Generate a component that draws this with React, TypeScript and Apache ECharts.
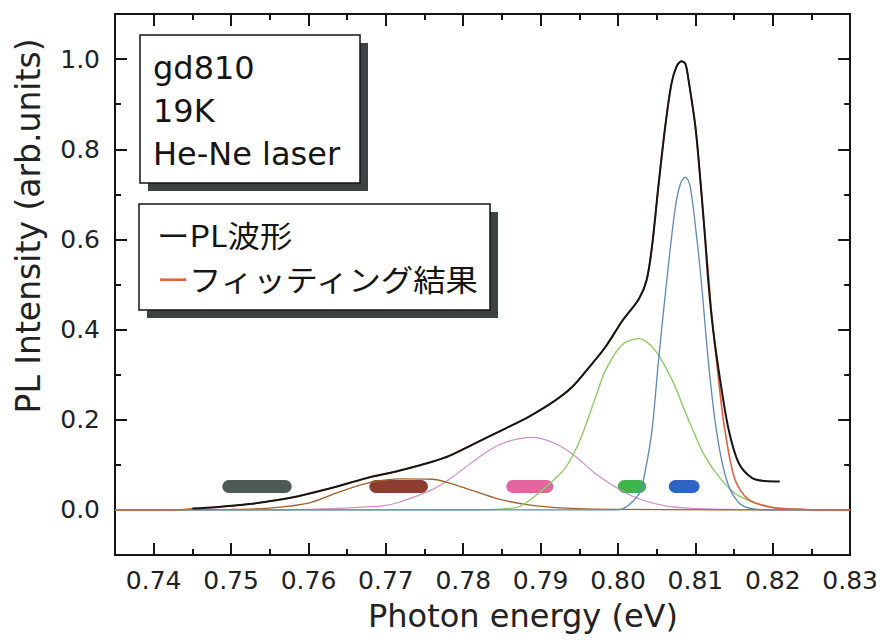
import React, { useEffect, useRef } from "react";
import * as echarts from "echarts";

// Photon energy (eV) / PL intensity pairs
const plWaveform: [number, number][] = [
  [0.745, 0.003], [0.748, 0.006], [0.7524, 0.013], [0.756, 0.022], [0.7588, 0.031],
  [0.7631, 0.049], [0.7674, 0.07], [0.7717, 0.087], [0.776, 0.107], [0.7782, 0.12],
  [0.7812, 0.145], [0.7855, 0.181], [0.7885, 0.207], [0.7919, 0.243], [0.7941, 0.273],
  [0.7962, 0.315], [0.7984, 0.362], [0.8005, 0.418], [0.8027, 0.468], [0.8037, 0.51],
  [0.8044, 0.585], [0.8052, 0.715], [0.8061, 0.85], [0.8069, 0.945], [0.8076, 0.985],
  [0.8082, 0.995], [0.8087, 0.99], [0.8091, 0.955], [0.81, 0.85], [0.8106, 0.74],
  [0.8112, 0.615], [0.8117, 0.5], [0.8123, 0.398], [0.8132, 0.288], [0.8143, 0.178],
  [0.8156, 0.104], [0.8173, 0.071], [0.819, 0.064], [0.8209, 0.063],
];

const fitResult: [number, number][] = [
  [0.735, 0], [0.74, 0], [0.744, 0.001], [0.745, 0.003], [0.748, 0.006], [0.7524, 0.013],
  [0.756, 0.022], [0.7588, 0.031], [0.7631, 0.049], [0.7674, 0.07], [0.7717, 0.087],
  [0.776, 0.107], [0.7782, 0.12], [0.7812, 0.145], [0.7855, 0.181], [0.7885, 0.207],
  [0.7919, 0.243], [0.7941, 0.273], [0.7962, 0.315], [0.7984, 0.362], [0.8005, 0.418],
  [0.8027, 0.468], [0.8037, 0.51], [0.8044, 0.585], [0.8052, 0.715], [0.8061, 0.85],
  [0.8069, 0.945], [0.8076, 0.985], [0.8082, 0.995], [0.8087, 0.99], [0.8091, 0.955],
  [0.81, 0.85], [0.8106, 0.74], [0.8112, 0.615], [0.8117, 0.52], [0.8121, 0.435],
  [0.813, 0.288], [0.8138, 0.178], [0.8151, 0.068], [0.8168, 0.024], [0.8198, 0.006],
  [0.8241, 0.001], [0.83, 0],
];

const brownComponent: [number, number][] = [
  [0.735, 0], [0.75, 0.001], [0.755, 0.004], [0.76, 0.015], [0.764, 0.04], [0.768, 0.061],
  [0.772, 0.069], [0.776, 0.068], [0.7803, 0.048], [0.7846, 0.024], [0.7889, 0.01],
  [0.7932, 0.004], [0.8, 0.001], [0.83, 0],
];

const pinkComponent: [number, number][] = [
  [0.735, 0], [0.755, 0], [0.76, 0.001], [0.7696, 0.009], [0.7717, 0.017], [0.776, 0.045],
  [0.7782, 0.068], [0.7833, 0.132], [0.786, 0.153], [0.7889, 0.161], [0.7915, 0.15],
  [0.7941, 0.124], [0.7975, 0.075], [0.8018, 0.031], [0.8061, 0.009], [0.8104, 0.003],
  [0.815, 0.001], [0.83, 0],
];

const greenComponent: [number, number][] = [
  [0.735, 0], [0.78, 0], [0.7868, 0.005], [0.7893, 0.031], [0.7928, 0.085], [0.7941, 0.119],
  [0.7954, 0.168], [0.7971, 0.25], [0.7984, 0.31], [0.8005, 0.366], [0.8027, 0.38],
  [0.8048, 0.354], [0.807, 0.288], [0.8091, 0.2], [0.8112, 0.12], [0.8134, 0.066],
  [0.8156, 0.031], [0.8198, 0.006], [0.8241, 0.001], [0.83, 0],
];

const blueComponent: [number, number][] = [
  [0.735, 0], [0.8, 0], [0.8027, 0.035], [0.8035, 0.085], [0.8044, 0.178], [0.8052, 0.325],
  [0.8063, 0.509], [0.8074, 0.67], [0.8081, 0.725], [0.8087, 0.738], [0.8093, 0.72],
  [0.8102, 0.6], [0.8108, 0.5], [0.8117, 0.325], [0.8127, 0.178], [0.814, 0.068],
  [0.8156, 0.016], [0.8175, 0.002], [0.82, 0], [0.83, 0],
];

// Peak markers: energy span of each band marker and its colour
const bandStart = [0.7497, 0.7687, 0.7864, 0.8008, 0.8074];
const bandEnd = [0.757, 0.7746, 0.7908, 0.8028, 0.8097];
const bandColors = ["#4e5a58", "#8d3d2f", "#e3649f", "#3db54a", "#2f63c4"];
const bandLevel = 0.052;

// Axis ticks
const xMajor = [0.74, 0.75, 0.76, 0.77, 0.78, 0.79, 0.8, 0.81, 0.82, 0.83];
const xMinor = [0.745, 0.755, 0.765, 0.775, 0.785, 0.795, 0.805, 0.815, 0.825];
const yMajor = [0, 0.2, 0.4, 0.6, 0.8, 1.0];
const yMinor = [0.1, 0.3, 0.5, 0.7, 0.9];

const X_MIN = 0.735;
const X_MAX = 0.83;
const Y_MIN = -0.1;
const Y_MAX = 1.1;

const INK = "#151515";
const FIT_RED = "#e0603c";
const LATIN = "DejaVu Sans";
const JP = "Noto Sans CJK JP";

function xAxisDef(position: "top" | "bottom", ticks: number[], len: number, labels: boolean) {
  return {
    type: "value",
    position,
    min: X_MIN,
    max: X_MAX,
    interval: 0.005,
    axisLine: { show: true, onZero: false, lineStyle: { color: INK, width: 2 } },
    axisTick: { show: true, inside: true, length: len, customValues: ticks, lineStyle: { color: INK, width: 2 } },
    axisLabel: labels
      ? {
          show: true,
          customValues: ticks,
          margin: 13,
          formatter: (v: number) => v.toFixed(2),
          fontFamily: LATIN,
          fontSize: 25,
          color: "#222",
        }
      : { show: false },
    splitLine: { show: false },
  };
}

function yAxisDef(position: "left" | "right", ticks: number[], len: number, labels: boolean) {
  return {
    type: "value",
    position,
    min: Y_MIN,
    max: Y_MAX,
    interval: 0.1,
    axisLine: { show: true, onZero: false, lineStyle: { color: INK, width: 2 } },
    axisTick: { show: true, inside: true, length: len, customValues: ticks, lineStyle: { color: INK, width: 2 } },
    axisLabel: labels
      ? {
          show: true,
          customValues: ticks,
          margin: 15,
          formatter: (v: number) => v.toFixed(1),
          fontFamily: LATIN,
          fontSize: 25,
          color: "#222",
        }
      : { show: false },
    splitLine: { show: false },
  };
}

function curve(data: [number, number][], color: string, width: number, z: number) {
  return {
    type: "line",
    data,
    xAxisIndex: 0,
    yAxisIndex: 0,
    showSymbol: false,
    symbol: "none",
    smooth: 0.3,
    z,
    lineStyle: { color, width },
    silent: true,
  };
}

export default function App() {
  const ref = useRef<HTMLDivElement>(null);

  useEffect(() => {
    if (!ref.current) return;
    const chart = echarts.init(ref.current, undefined, { renderer: "svg" });

    const bandSeries = bandStart.map((s, i) => ({
      type: "line",
      data: [
        [s, bandLevel],
        [bandEnd[i], bandLevel],
      ],
      xAxisIndex: 0,
      yAxisIndex: 0,
      showSymbol: false,
      symbol: "none",
      z: 1,
      silent: true,
      lineStyle: { color: bandColors[i], width: 13, cap: "round" },
    }));

    const textStyle = (text: string, fontFamily: string, fontSize: number, fill: string) => ({
      text,
      fontFamily,
      fontSize,
      lineHeight: fontSize + 4,
      fill,
      verticalAlign: "middle",
    });

    // legend glyphs are slightly widened to the box's proportions
    const LEGEND_STRETCH = 1.08;

    chart.setOption({
      animation: false,
      backgroundColor: "#ffffff",
      grid: { left: 115, top: 14, right: 28, bottom: 89, containLabel: false },
      xAxis: [
        xAxisDef("bottom", xMajor, 12, true),
        xAxisDef("bottom", xMinor, 6, false),
        xAxisDef("top", xMajor, 12, false),
        xAxisDef("top", xMinor, 6, false),
      ],
      yAxis: [
        yAxisDef("left", yMajor, 12, true),
        yAxisDef("left", yMinor, 6, false),
        yAxisDef("right", yMajor, 12, false),
        yAxisDef("right", yMinor, 6, false),
      ],
      series: [
        ...bandSeries,
        curve(pinkComponent, "#d48ebf", 1.2, 3),
        curve(brownComponent, "#a0622c", 1.3, 3),
        curve(greenComponent, "#8ccc64", 1.4, 3),
        curve(blueComponent, "#6088b6", 1.3, 3),
        curve(fitResult, FIT_RED, 1.6, 4),
        curve(plWaveform, INK, 2, 5),
      ],
      graphic: [
        // sample box
        { type: "rect", z: 100, shape: { x: 148, y: 43, width: 220, height: 148 }, style: { fill: "#3d4343" } },
        { type: "rect", z: 101, shape: { x: 140, y: 35, width: 220, height: 148 }, style: { fill: "#fff", stroke: INK, lineWidth: 1.5 } },
        { type: "text", z: 102, x: 153, y: 68, style: textStyle("gd810", LATIN, 32, INK) },
        { type: "text", z: 102, x: 153, y: 111, style: textStyle("19K", LATIN, 32, INK) },
        { type: "text", z: 102, x: 153, y: 154, style: textStyle("He-Ne laser", LATIN, 32, INK) },
        // legend box
        { type: "rect", z: 100, shape: { x: 147, y: 212, width: 351, height: 106 }, style: { fill: "#3d4343" } },
        { type: "rect", z: 101, shape: { x: 139, y: 204, width: 351, height: 106 }, style: { fill: "#fff", stroke: INK, lineWidth: 1.5 } },
        { type: "text", z: 102, x: 157, y: 234, scaleX: LEGEND_STRETCH, style: textStyle("ーPL波形", JP, 30, INK) },
        { type: "text", z: 102, x: 157, y: 278, scaleX: LEGEND_STRETCH, style: textStyle("ー", JP, 30, FIT_RED) },
        { type: "text", z: 102, x: 189, y: 278, scaleX: LEGEND_STRETCH, style: textStyle("フィッティング結果", JP, 30, INK) },
        // axis titles
        { type: "text", z: 102, x: 523, y: 616, style: { ...textStyle("Photon energy (eV)", LATIN, 32, "#222"), align: "center" } },
        { type: "text", z: 102, x: 28, y: 226, rotation: Math.PI / 2, style: { ...textStyle("PL Intensity (arb.units)", LATIN, 33, "#222"), align: "center" } },
      ],
    });

    return () => chart.dispose();
  }, []);

  return (
    <div
      ref={ref}
      style={{ position: "fixed", left: 0, top: 0, width: 881, height: 644, background: "#fff" }}
    />
  );
}
